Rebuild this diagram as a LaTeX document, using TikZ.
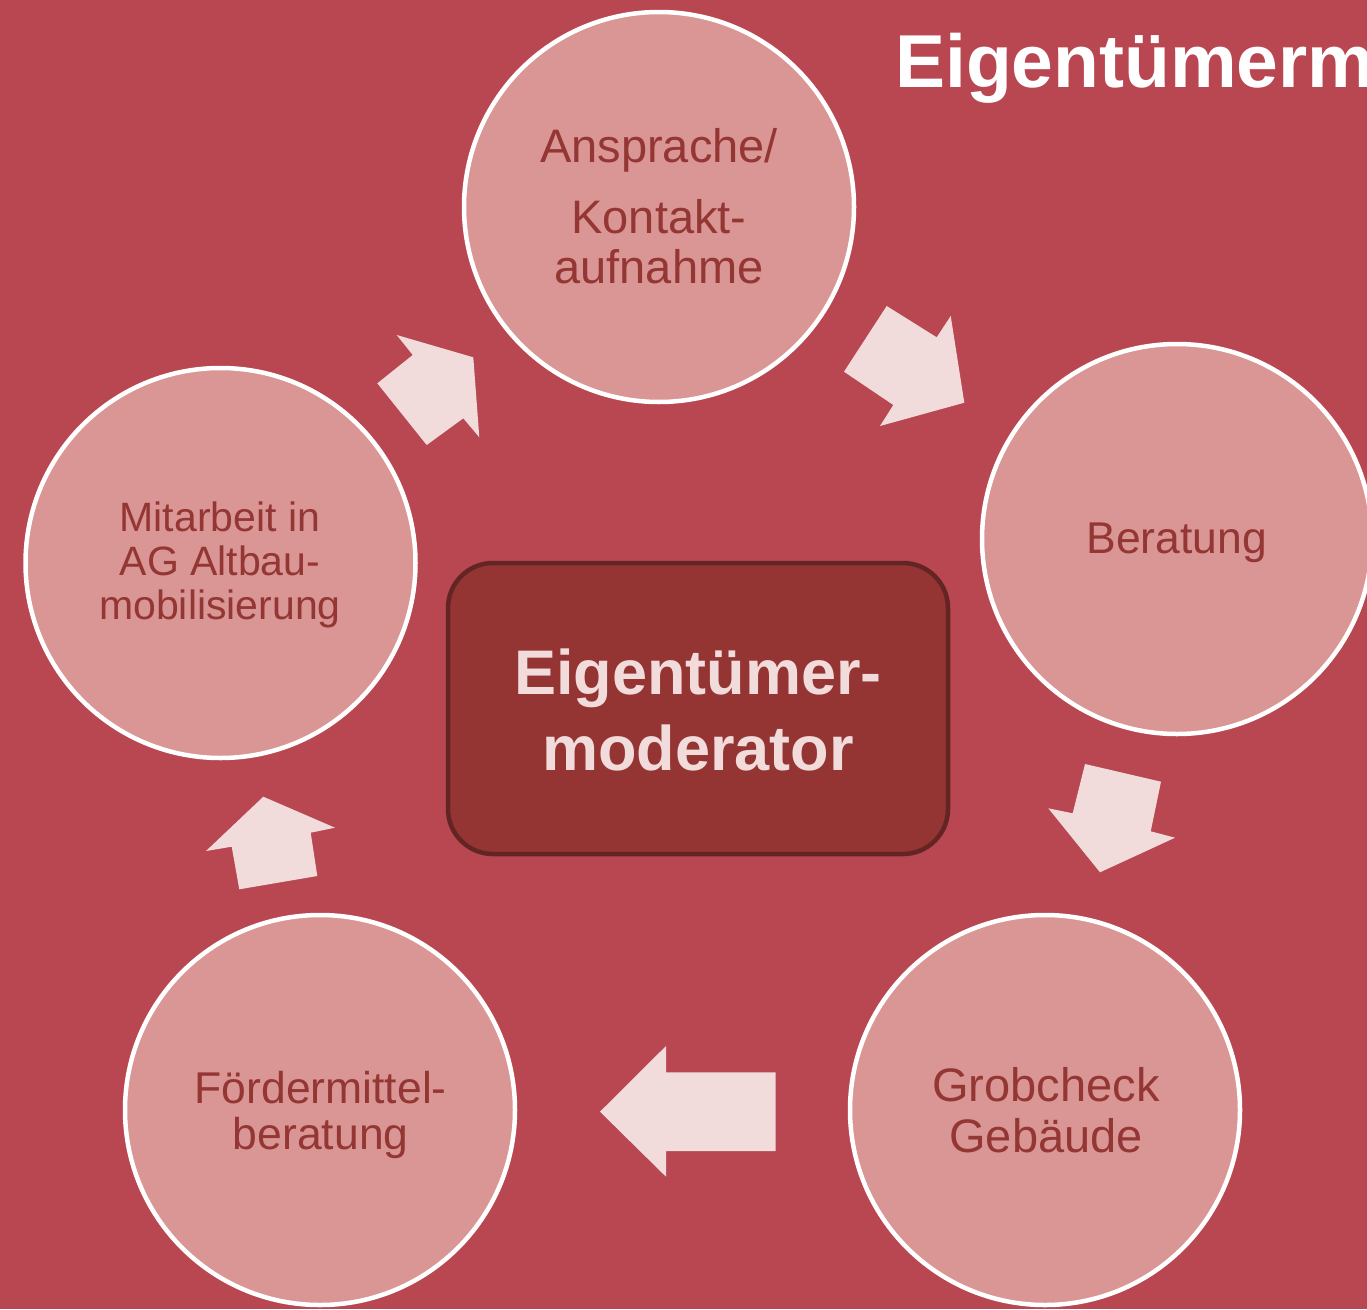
\documentclass[tikz,border=0pt]{standalone}
\usepackage{fontspec}
\setmainfont{Liberation Sans}
\definecolor{bgred}{RGB}{184,71,81}
\definecolor{circfill}{RGB}{217,150,148}
\definecolor{circtext}{RGB}{148,54,52}
\definecolor{arrowfill}{RGB}{242,220,219}
\definecolor{hubfill}{RGB}{148,53,52}
\definecolor{hubline}{RGB}{99,37,36}
\begin{document}
\begin{tikzpicture}[x=1pt,y=-1pt,
  stage/.style={circle, draw=white, line width=4.5pt, fill=circfill, minimum size=390pt, inner sep=0pt},
  lbl/.style={anchor=base, inner sep=0pt, text=circtext},
  hub/.style={draw=hubline, line width=4.5pt, fill=hubfill, rounded corners=45pt, minimum width=500pt, minimum height=291pt, inner sep=0pt},
  hubtext/.style={anchor=base, inner sep=0pt, text=arrowfill, font=\fontsize{63}{76}\selectfont\bfseries},
  blockarrow/.style={fill=arrowfill, draw=none}]
\fill[bgred] (0,0) rectangle (1367,1309);
\useasboundingbox (0,0) rectangle (1367,1309);

% stages
\node[stage] (s1) at (659,207) {};
\node[stage] (s2) at (1177,539) {};
\node[stage] (s3) at (1045,1110) {};
\node[stage] (s4) at (320,1110) {};
\node[stage] (s5) at (220.5,563) {};

% hub
\node[hub] (hub) at (698,708.5) {};
\node[hubtext] (h1) at (698,694) {Eigentümer-};
\node[hubtext] (h2) at (698,770) {moderator};

% labels
\begin{scope}[font=\fontsize{47}{50}\selectfont]
\node[lbl] (t1a) at (659,162) {Ansprache/};
\node[lbl] (t1b) at (659,233) {Kontakt-};
\node[lbl] (t1c) at (659,283) {aufnahme};
\node[lbl] (t3a) at (1046,1101) {Grobcheck};
\node[lbl] (t3b) at (1046,1152) {Gebäude};
\end{scope}
\begin{scope}[font=\fontsize{44.5}{48}\selectfont]
\node[lbl] (t2) at (1176.7,553) {Beratung};
\node[lbl] (t4a) at (320.7,1103) {Fördermittel-};
\node[lbl] (t4b) at (320.7,1149) {beratung};
\end{scope}
\begin{scope}[font=\fontsize{41}{44}\selectfont]
\node[lbl] (t5a) at (220,531.7) {Mitarbeit in};
\node[lbl] (t5b) at (220,575) {AG Altbau-};
\node[lbl] (t5c) at (220,619.5) {mobilisierung};
\end{scope}

% block arrows
\fill[blockarrow] (886.7,306) -- (936.7,337.3) -- (950.7,316) -- (964.3,402.7) -- (880,426) -- (893.3,405) -- (844,371.7) -- cycle;
\fill[blockarrow] (1085,764) -- (1161,781.7) -- (1150.7,831.3) -- (1175,837.7) -- (1100,872.3) -- (1048.3,808.3) -- (1072.7,813.3) -- cycle;
\fill[blockarrow] (775.7,1072.3) -- (775.7,1151) -- (666,1151) -- (666,1176.7) -- (600,1111.7) -- (666,1046) -- (666,1072.3) -- cycle;
\fill[blockarrow] (239.3,889.3) -- (317.3,876) -- (310.7,832.7) -- (335,827.7) -- (263.3,796.7) -- (206,851) -- (231.7,846.7) -- cycle;
\fill[blockarrow] (426.7,445) -- (463.3,418.3) -- (479.3,437.3) -- (473.3,357.3) -- (396.7,335) -- (412.7,355) -- (377.3,383.3) -- cycle;

% title (cut off at the right edge, as in the reference)
\node[anchor=base west, inner sep=0pt, text=white, font=\fontsize{75}{80}\selectfont\bfseries] (title) at (895,87) {Eigentümerm};
\end{tikzpicture}
\end{document}
